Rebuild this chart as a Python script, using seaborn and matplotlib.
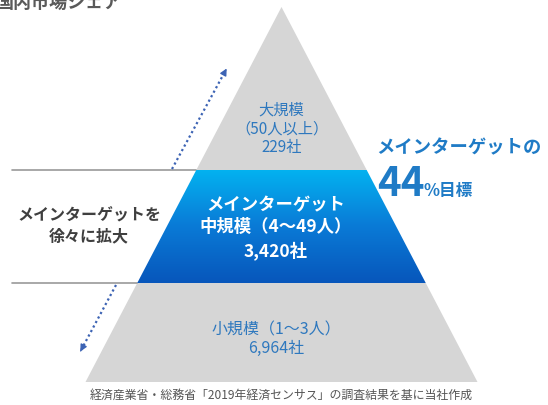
import numpy as np
import matplotlib
matplotlib.use('Agg')
import matplotlib.pyplot as plt
import seaborn as sns
from matplotlib.patches import Polygon
from matplotlib.colors import LinearSegmentedColormap

# --- data ---
tier_names = ['大規模\n（50人以上）', 'メインターゲット\n中規模（4～49人）', '小規模（1～3人）']
tier_counts = [229, 3420, 6964]
target_share = 44
title_text = '国内市場シェア'
left_note = 'メインターゲットを\n徐々に拡大'
right_note = 'メインターゲットの'
source_note = '経済産業省・総務省「2019年経済センサス」の調査結果を基に当社作成'

# --- layout (pixel coords) ---
W, H = 548, 406
apex_x, apex_y = 281.5, 8
base_y, base_half = 383, 196
cuts = [171, 284]          # tier boundaries
gray = '#d6d6d6'
tier_blue = '#2e78be'


def half_width(y):
    return base_half * (y - apex_y) / (base_y - apex_y)


def trapezoid(y0, y1):
    h0, h1 = half_width(y0), half_width(y1)
    return [(apex_x - h0, y0), (apex_x + h0, y0), (apex_x + h1, y1), (apex_x - h1, y1)]


sns.set_theme(style='white')
plt.rcParams['font.family'] = ['Noto Sans CJK JP', 'DejaVu Sans']

fig = plt.figure(figsize=(W / 100, H / 100), dpi=100)
ax = fig.add_axes([0, 0, 1, 1])
ax.set_xlim(0, W)
ax.set_ylim(H, 0)
ax.axis('off')

# gray pyramid tiers
ax.add_patch(Polygon(trapezoid(apex_y, cuts[0]), closed=True, fc=gray, ec='none'))
ax.add_patch(Polygon(trapezoid(cuts[1], base_y), closed=True, fc=gray, ec='none'))

# blue gradient middle tier
mid = Polygon(trapezoid(cuts[0], cuts[1]), closed=True, fc='none', ec='none')
ax.add_patch(mid)
cmap = LinearSegmentedColormap.from_list('tier', ['#03b2f0', '#0a7ad6', '#0756bb'])
grad = np.linspace(0, 1, 256).reshape(-1, 1)
img = ax.imshow(grad, cmap=cmap, aspect='auto',
                extent=[apex_x - half_width(cuts[1]), apex_x + half_width(cuts[1]), cuts[1], cuts[0]],
                origin='upper', zorder=2)
img.set_clip_path(mid)
ax.set_xlim(0, W)
ax.set_ylim(H, 0)

# horizontal guide lines
for y in cuts:
    sns.lineplot(x=[12, apex_x - half_width(y)], y=[y, y], ax=ax, color='#9a9a9a', lw=1.2, zorder=1)

# dotted arrows
arrow_col = '#3c63b4'
for (x0, y0), (x1, y1) in [((172, 170), (228, 67)), ((116, 286), (79, 355))]:
    ax.plot([x0, x1 - (x1 - x0) * 0.06], [y0, y1 - (y1 - y0) * 0.06], ls=(0, (1, 1.3)),
            color=arrow_col, lw=1.6, zorder=3)
    ax.annotate('', xy=(x1, y1), xytext=(x1 - (x1 - x0) * 0.08, y1 - (y1 - y0) * 0.08),
                arrowprops=dict(arrowstyle='-|>', color=arrow_col, lw=1, mutation_scale=10))

# tier labels
ax.text(apex_x, 129, f'{tier_names[0]}\n{tier_counts[0]:,}社', ha='center', va='center',
        fontsize=11, color=tier_blue, linespacing=1.15, zorder=4)
ax.text(apex_x - 6, 228, f'{tier_names[1]}\n{tier_counts[1]:,}社', ha='center', va='center',
        fontsize=12.5, color='white', fontweight='bold', linespacing=1.3, zorder=4)
ax.text(apex_x - 5, 339, f'{tier_names[2]}\n{tier_counts[2]:,}社', ha='center', va='center',
        fontsize=11.5, color=tier_blue, linespacing=1.15, zorder=4)

# side notes
ax.text(89, 226, left_note, ha='center', va='center', fontsize=11.5, fontweight='bold',
        color='#3f3f3f', linespacing=1.4)
ax.text(376, 148, right_note, ha='left', va='center', fontsize=13.2, fontweight='bold', color='#1f7bc6')
ax.text(377, 196, f'{target_share}', ha='left', va='baseline', fontsize=29, fontweight='bold',
        color='#1f7bc6')
ax.text(423, 196, '%目標', ha='left', va='baseline', fontsize=12, fontweight='bold', color='#1f7bc6')

# title (cut off at top, as in the source slide) and source
ax.text(-4, 2, title_text, ha='left', va='center', fontsize=13, fontweight='bold', color='#5a5a5a')
ax.text(apex_x, 395, source_note, ha='center', va='center', fontsize=8.6, color='#555555')

fig.savefig('out.png', dpi=100)
